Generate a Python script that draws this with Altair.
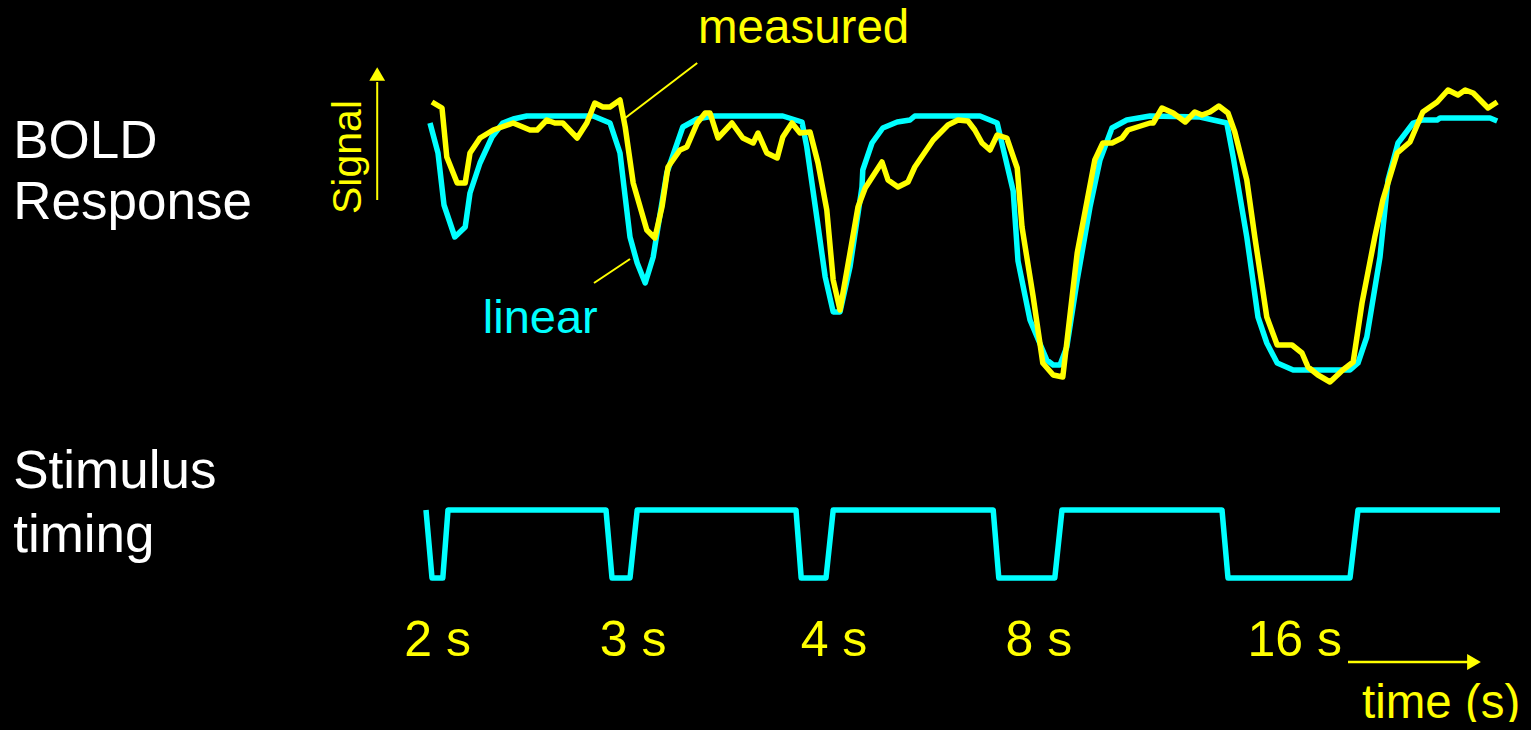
import altair as alt
import pandas as pd

# ---- BOLD response: linear prediction (time in s, signal change in arbitrary units) ----
linear_t = [0.5, 1.5, 2.25, 3.6, 4.9, 5.5, 6.75, 8.25, 9.6, 10.9,
            12.6, 20.9, 23.0, 24.25, 24.9, 25.5, 26.4, 27.4, 28.4, 29.0,
            30.1, 32.1, 33.9, 35.9, 44.6, 47.0, 47.6, 48.9, 49.9, 50.9,
            51.75, 53.0, 54.5, 54.6, 55.75, 57.1, 58.9, 60.5, 61.1, 69.25,
            71.4, 72.1, 73.4, 74.0, 75.5, 77.6, 78.4, 79.25, 80.1, 81.4,
            83.0, 84.25, 85.75, 87.6, 90.5, 96.75, 98.4, 100.1, 100.9, 102.6,
            104.0, 105.1, 106.4, 108.4, 115.5, 116.5, 117.6, 119.25, 120.25, 121.5,
            123.4, 124.6, 126.4, 126.75, 133.0, 133.9]
linear_signal = [-0.07, -0.37, -0.89, -1.21, -1.11, -0.77, -0.47, -0.21, -0.07, -0.03,
                 0.0, 0.0, -0.07, -0.37, -0.81, -1.21, -1.47, -1.67, -1.41, -1.11,
                 -0.57, -0.11, -0.03, 0.0, 0.0, -0.06, -0.31, -1.04, -1.61, -1.96,
                 -1.96, -1.51, -0.71, -0.54, -0.27, -0.12, -0.06, -0.04, 0.0, 0.0,
                 -0.07, -0.31, -0.75, -1.45, -2.04, -2.44, -2.49, -2.49, -2.31, -1.64,
                 -0.91, -0.44, -0.12, -0.04, 0.0, -0.01, -0.04, -0.07, -0.41, -1.21,
                 -2.01, -2.27, -2.47, -2.54, -2.54, -2.47, -2.21, -1.41, -0.64, -0.27,
                 -0.07, -0.04, -0.04, -0.02, -0.02, -0.05]

# ---- BOLD response: measured ----
measured_t = [0.75, 2.0, 2.6, 3.9, 4.9, 5.5, 6.75, 8.4, 10.9, 13.0,
              13.9, 15.1, 16.1, 17.1, 18.9, 20.1, 21.1, 22.1, 23.0, 24.25,
              24.9, 25.9, 27.6, 28.6, 29.5, 30.25, 31.75, 32.6, 33.9, 34.9,
              35.5, 36.5, 38.25, 39.6, 40.9, 41.5, 42.6, 43.9, 44.6, 45.75,
              46.75, 48.0, 49.0, 50.1, 50.9, 51.75, 53.0, 54.0, 54.9, 57.0,
              57.75, 59.0, 60.25, 61.1, 63.4, 65.25, 66.5, 67.75, 68.6, 69.5,
              70.5, 71.4, 72.6, 73.9, 74.5, 75.9, 77.1, 78.4, 79.6, 81.4,
              83.6, 84.6, 85.75, 87.0, 87.75, 90.5, 90.9, 92.0, 93.4, 94.9,
              96.1, 97.0, 98.0, 99.1, 100.25, 101.1, 102.6, 103.6, 105.1, 106.4,
              108.25, 109.5, 110.25, 111.5, 113.0, 114.6, 115.9, 117.0, 118.6, 119.6,
              121.4, 123.0, 124.6, 126.4, 127.75, 129.0, 129.9, 130.9, 132.75, 133.9]
measured_signal = [0.14, 0.08, -0.41, -0.67, -0.67, -0.37, -0.22, -0.14, -0.07, -0.14,
                   -0.14, -0.04, -0.07, -0.07, -0.22, -0.07, 0.13, 0.09, 0.09, 0.16,
                   -0.11, -0.67, -1.14, -1.22, -0.91, -0.51, -0.34, -0.31, -0.07, 0.03,
                   0.03, -0.22, -0.07, -0.22, -0.27, -0.17, -0.37, -0.42, -0.21, -0.07,
                   -0.17, -0.16, -0.47, -0.94, -1.64, -1.94, -1.37, -0.91, -0.72, -0.46,
                   -0.64, -0.71, -0.66, -0.51, -0.24, -0.09, -0.04, -0.05, -0.14, -0.27,
                   -0.34, -0.19, -0.22, -0.52, -1.11, -1.81, -2.47, -2.59, -2.61, -1.37,
                   -0.44, -0.27, -0.27, -0.22, -0.14, -0.07, -0.07, 0.08, 0.03, -0.06,
                   0.04, 0.01, 0.04, 0.10, 0.03, -0.16, -0.64, -1.21, -2.01, -2.29,
                   -2.29, -2.37, -2.51, -2.59, -2.66, -2.54, -2.46, -1.87, -1.21, -0.84,
                   -0.37, -0.26, 0.04, 0.14, 0.26, 0.21, 0.26, 0.23, 0.08, 0.14]

# ---- Stimulus timing (1 = on, 0 = off) ----
stim_t = [0.0, 0.75, 2.1, 2.75, 22.5, 23.25, 25.5, 26.4, 46.25, 46.9,
          50.0, 50.9, 70.9, 71.6, 78.6, 79.5, 99.5, 100.25, 115.5, 116.5, 134.25]
stim_level = [1, 0, 0, 1, 1, 0, 0, 1, 1, 0,
              0, 1, 1, 0, 0, 1, 1, 0, 0, 1, 1]

# ---- Off-period labels ----
gap_labels = ["2 s", "3 s", "4 s", "8 s", "16 s"]
gap_label_t = [1.44, 25.9, 51.0, 76.6, 108.6]

# ---- Row labels ----
row_labels = ["BOLD", "Response", "Stimulus", "timing"]

FONT = "Liberation Sans, Arial, Helvetica, sans-serif"
CYAN = "#00FFFF"
YELLOW = "#FFFF00"

# make the page around the chart black as well
try:
    import altair.utils.html as _ah
    _std = _ah.TEMPLATES["standard"]

    class _BlackPage:
        def render(self, *a, **k):
            html = _std.render(*a, **k)
            return html.replace(
                "<head>", "<head>\n<style>html,body{background:#000;}</style>", 1
            )

    _ah.TEMPLATES["standard"] = _BlackPage()
except Exception:
    pass

x_scale = alt.Scale(domain=[0, 135], range=[418, 1498])
bold_y = alt.Scale(domain=[-3, 0.5], range=[408, 58])
stim_y = alt.Scale(domain=[0, 1], range=[570, 502])


def X(field="t"):
    return alt.X(f"{field}:Q", scale=x_scale, axis=None)


def YB(field="signal"):
    return alt.Y(f"{field}:Q", scale=bold_y, axis=None)


def YS(field="level"):
    return alt.Y(f"{field}:Q", scale=stim_y, axis=None)


df_lin = pd.DataFrame({"t": linear_t, "signal": linear_signal})
df_lin["i"] = range(len(df_lin))
df_meas = pd.DataFrame({"t": measured_t, "signal": measured_signal})
df_meas["i"] = range(len(df_meas))
df_stim = pd.DataFrame({"t": stim_t, "level": stim_level})
df_stim["i"] = range(len(df_stim))

linear_line = alt.Chart(df_lin).mark_line(
    color=CYAN, strokeWidth=5.5, strokeJoin="round"
).encode(x=X(), y=YB(), order="i:Q")

measured_line = alt.Chart(df_meas).mark_line(
    color=YELLOW, strokeWidth=5.5, strokeJoin="round"
).encode(x=X(), y=YB(), order="i:Q")

stim_line = alt.Chart(df_stim).mark_line(
    color=CYAN, strokeWidth=5.5, strokeJoin="round"
).encode(x=X(), y=YS(), order="i:Q")

# leader lines + signal arrow (bold scale)
df_lead = pd.DataFrame({
    "t": [24.9, 21.0, -6.1],
    "t2": [33.9, 25.5, -6.1],
    "signal": [-0.02, -1.67, -0.84],
    "signal2": [0.53, -1.43, 0.34],
})
leaders = alt.Chart(df_lead).mark_rule(color=YELLOW, strokeWidth=2).encode(
    x=X(), x2="t2:Q", y=YB(), y2="signal2:Q"
)
sig_head = alt.Chart(pd.DataFrame({"t": [-6.1], "signal": [0.42]})).mark_point(
    shape="triangle-up", filled=True, color=YELLOW, size=250, opacity=1
).encode(x=X(), y=YB())

measured_txt = alt.Chart(pd.DataFrame({"t": [34.0], "signal": [0.73], "label": ["measured"]})).mark_text(
    font=FONT, fontSize=47.5, color=YELLOW, align="left", baseline="alphabetic"
).encode(x=X(), y=YB(), text="label:N")

linear_txt = alt.Chart(pd.DataFrame({"t": [7.1], "signal": [-2.17], "label": ["linear"]})).mark_text(
    font=FONT, fontSize=47, color=CYAN, align="left", baseline="alphabetic"
).encode(x=X(), y=YB(), text="label:N")

signal_txt = alt.Chart(pd.DataFrame({"t": [-8.1], "signal": [-0.41], "label": ["Signal"]})).mark_text(
    font=FONT, fontSize=41, color=YELLOW, align="center", baseline="alphabetic", angle=270
).encode(x=X(), y=YB(), text="label:N")

# time labels (stimulus scale)
gap_txt = alt.Chart(pd.DataFrame({"t": gap_label_t, "level": [-1.147] * 5, "label": gap_labels})).mark_text(
    font=FONT, fontSize=50, color=YELLOW, align="center", baseline="alphabetic"
).encode(x=X(), y=YS(), text="label:N")

time_txt = alt.Chart(pd.DataFrame({"t": [117.0], "level": [-2.06], "label": ["time (s)"]})).mark_text(
    font=FONT, fontSize=47.5, color=YELLOW, align="left", baseline="alphabetic"
).encode(x=X(), y=YS(), text="label:N")

time_rule = alt.Chart(pd.DataFrame({"t": [115.25], "t2": [130.5], "level": [-1.235]})).mark_rule(
    color=YELLOW, strokeWidth=2.5
).encode(x=X(), x2="t2:Q", y=YS())

time_head = alt.Chart(pd.DataFrame({"t": [131.0], "level": [-1.235]})).mark_point(
    shape="triangle-right", filled=True, color=YELLOW, size=250, opacity=1
).encode(x=X(), y=YS())

# row labels
row_bold = alt.Chart(pd.DataFrame({"t": [-51.6, -51.6], "signal": [-0.42, -1.03],
                                   "label": row_labels[:2]})).mark_text(
    font=FONT, fontSize=53, color="white", align="left", baseline="alphabetic"
).encode(x=X(), y=YB(), text="label:N")

row_stim = alt.Chart(pd.DataFrame({"t": [-51.6, -51.6], "level": [1.32, 0.38],
                                   "label": row_labels[2:]})).mark_text(
    font=FONT, fontSize=53, color="white", align="left", baseline="alphabetic"
).encode(x=X(), y=YS(), text="label:N")

chart = alt.layer(
    linear_line, measured_line, stim_line,
    leaders, sig_head, measured_txt, linear_txt, signal_txt,
    gap_txt, time_txt, time_rule, time_head,
    row_bold, row_stim,
).resolve_scale(y="independent").properties(
    width=1515, height=714, background="black", padding=0,
    autosize=alt.AutoSizeParams(type="none"),
).configure_view(stroke=None, fill="black")

chart.save("out.html", embed_options={"renderer": "svg", "actions": False})
